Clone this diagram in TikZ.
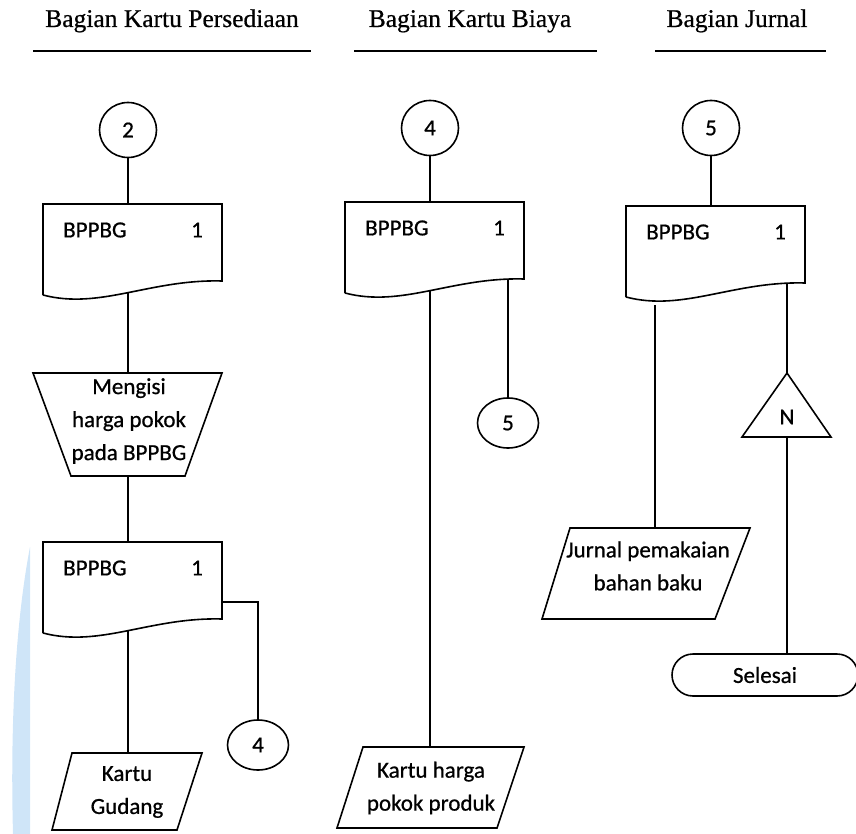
\documentclass[tikz,border=0pt]{standalone}
\usepackage{fontspec}
\setmainfont{Carlito}[RawFeature={embolden=0.7}]
\newfontfamily\headfont{Liberation Serif}[RawFeature={embolden=0.6}]
\usetikzlibrary{shapes.geometric,shapes.misc}
\definecolor{wm}{RGB}{207,229,248}
\newcommand\mydoc[3]{%
  \draw[line] (#2,#3+91) -- (#2,#3) -- (#2+179,#3) -- (#2+179,#3+77)
     .. controls (#2+107,#3+75) and (#2+57,#3+106) .. (#2,#3+91) coordinate[pos=0.5] (#1-b);
  \node[txt, anchor=west] (#1-t) at (#2+20,#3+26) {BPPBG};
  \node[txt] (#1-n) at (#2+154,#3+26) {1};
  \coordinate (#1-top) at (#2+85,#3);
  \coordinate (#1-rb) at (#2+179,#3+77);
}
\begin{document}
\begin{tikzpicture}[x=1pt,y=-1pt,
  line/.style={line width=1.6pt, black},
  txt/.style={font=\fontsize{23}{33}\selectfont, align=center, inner sep=0pt},
  head/.style={font=\headfont\fontsize{25.5}{30}\selectfont, inner sep=0pt, anchor=base},
  conn/.style={ellipse, draw, line width=1.6pt, minimum width=57pt, minimum height=55pt, inner sep=0pt, font=\fontsize{23}{28}\selectfont},
  connsm/.style={conn, minimum width=61pt, minimum height=50pt},
]
\useasboundingbox (0,0) rectangle (856,834);
% watermark
\fill[wm] (30,547) .. controls (16,620) and (10,720) .. (13,834) -- (30,834) -- cycle;
% headers
\node[head] (h1) at (172,27) {Bagian Kartu Persediaan};
\node[head] (h2) at (470,27) {Bagian Kartu Biaya};
\node[head] (h3) at (737,27) {Bagian Jurnal};
\draw[line width=2.2pt] (33,51) -- (311,51);
\draw[line width=2.2pt] (354,51) -- (597,51);
\draw[line width=2.2pt] (655,51) -- (826,51);
% ---------- left column
\node[conn] (c2) at (128,130) {2};
\mydoc{d1}{43}{204}
\draw[line] (c2) -- (d1-top);
\draw[line] (33,373) -- (222,373) -- (185,476) -- (71,476) -- cycle;
\node[txt] (tr) at (129,421) {Mengisi\\harga pokok\\pada BPPBG};
\coordinate (tr-top) at (128,373);
\coordinate (tr-bot) at (128,476);
\draw[line] (d1-b -| d1-top) -- (tr-top);
\mydoc{d2}{43}{542}
\draw[line] (tr-bot) -- (d2-top);
\coordinate (d2-r) at (222,602);
\node[connsm] (c4b) at (258,745) {4};
\draw[line] (d2-r) -| (c4b);
\draw[line] (52,830) -- (72,753) -- (202,753) -- (177,830) -- cycle;
\coordinate (kg-top) at (127,753);
\node[txt] (kg) at (127,792) {Kartu\\Gudang};
\draw[line] (d2-b -| d2-top) -- (d2-top |- kg-top);
% ---------- middle column
\node[conn] (c4) at (430,128) {4};
\mydoc{d3}{345}{202}
\draw[line] (c4) -- (c4 |- d3-top);
\node[connsm] (c5b) at (508,423) {5};
\draw[line] (c5b |- d3-rb) -- (c5b);
\draw[line] (337,828) -- (363,747) -- (524,747) -- (497,828) -- cycle;
\coordinate (kh-top) at (430,747);
\node[txt] (kh) at (431,788) {Kartu harga\\pokok produk};
\draw[line] (d3-b -| d3-top) -- (d3-top |- kh-top);
% ---------- right column
\node[conn] (c5) at (711,128) {5};
\mydoc{d4}{626}{206}
\draw[line] (c5) -- (c5 |- d4-top);
\coordinate (d4-l) at (655,305);
\draw[line] (542,619) -- (570,528) -- (750,528) -- (715,619) -- cycle;
\coordinate (jp-top) at (655,528);
\node[txt] (jp) at (648,566) {Jurnal pemakaian\\bahan baku};
\draw[line] (d4-l) -- (jp-top);
\coordinate (d4-r) at (787,283);
\coordinate (tri-top) at (787,373);
\coordinate (tri-base) at (787,437);
\draw[line] (tri-top) -- (831,437) -- (742,437) -- cycle;
\node[txt] (tri) at (787,417) {N};
\draw[line] (d4-r) -- (tri-top);
\node[draw, line, rounded rectangle, minimum width=186pt, minimum height=42pt, inner sep=0pt, font=\fontsize{23}{28}\selectfont] (end) at (765,675) {Selesai};
\draw[line] (tri-base) -- (tri-base |- end.north);
\end{tikzpicture}
\end{document}
